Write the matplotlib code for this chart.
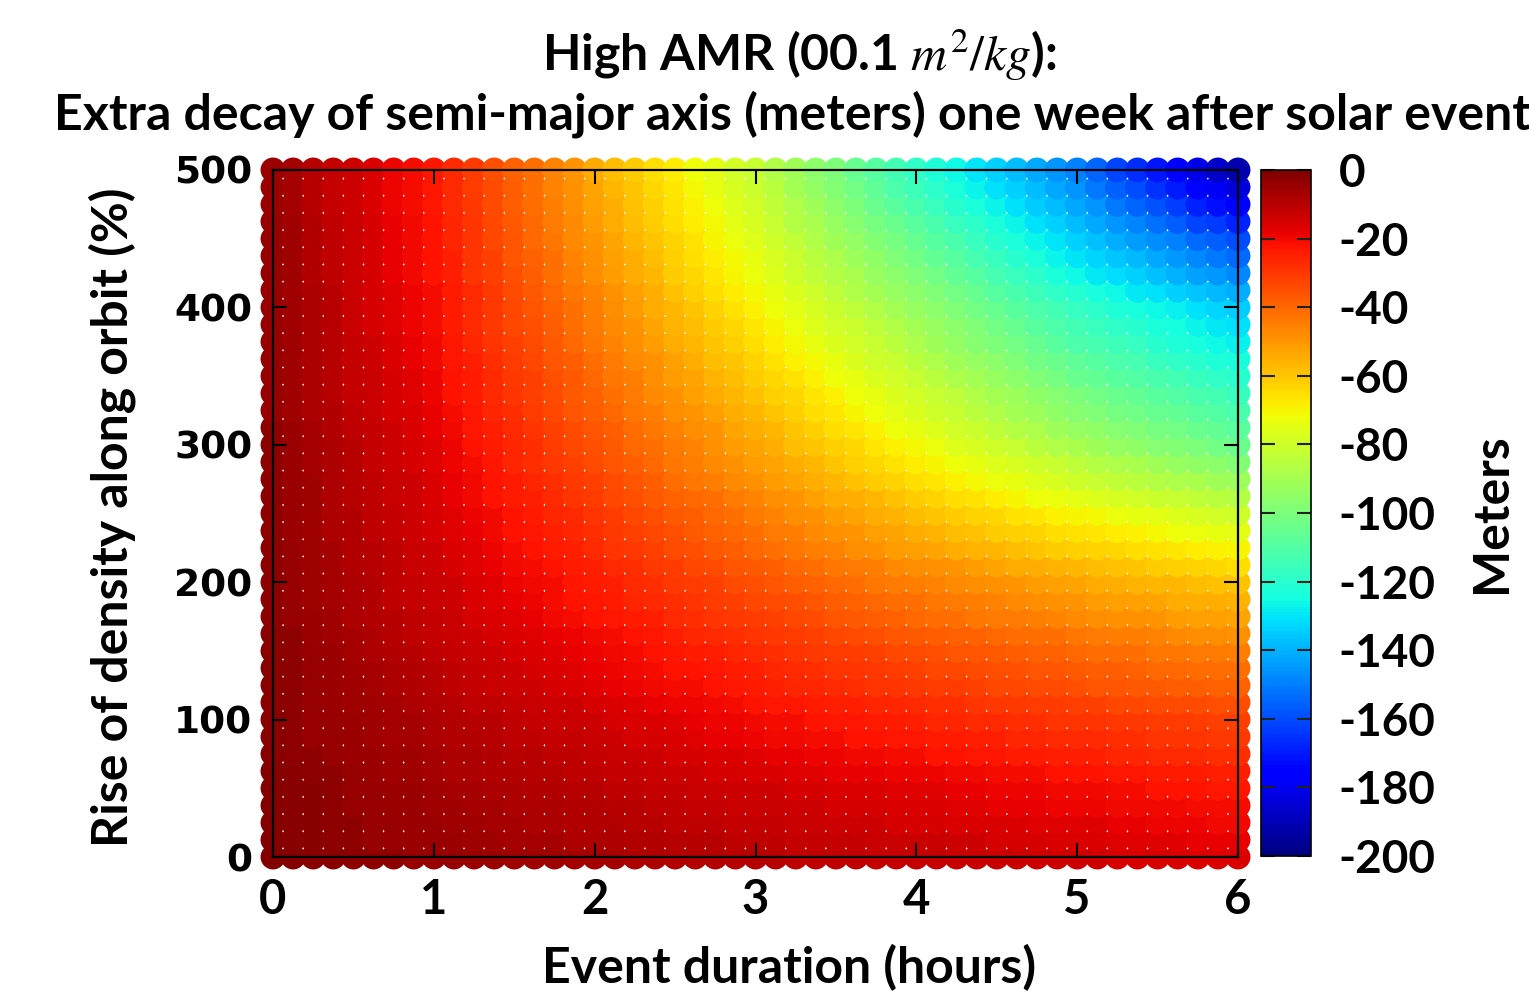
import numpy as np
import matplotlib.pyplot as plt

plt.rcParams['axes.unicode_minus'] = False
plt.rcParams['mathtext.fontset'] = 'stix'

# sampling grid of the runs: event duration (h) and density rise (%)
durations = np.linspace(0, 6, 49)
density_rise = np.linspace(0, 500, 41)

# extra decay of semi-major axis (m), one row per density step, 0 % first
decay_m = [
    [-1,-1,-2,-2,-3,-3,-3,-4, -4,-4,-5,-5,-6,-6,-6,-7, -7,-7,-8,-8,-9,-9,-9,-10, -10,-10,-11,-11,-11,-11,-12,-12, -12,-12,-13,-13,-13,-13,-14,-14, -14,-14,-15,-15,-15,-15,-16,-16, -16],
    [-1,-2,-2,-3,-3,-4,-4,-5, -5,-5,-6,-6,-7,-7,-7,-8, -8,-8,-9,-9,-10,-10,-10,-11, -11,-11,-12,-12,-12,-12,-13,-13, -13,-13,-14,-14,-15,-15,-15,-16, -16,-16,-17,-17,-17,-17,-18,-18, -18],
    [-1,-2,-2,-3,-3,-4,-4,-5, -5,-6,-6,-7,-7,-8,-8,-9, -9,-9,-10,-10,-11,-11,-11,-12, -12,-12,-13,-13,-14,-14,-14,-15, -15,-15,-16,-16,-16,-16,-17,-17, -17,-17,-18,-18,-19,-19,-19,-20, -20],
    [-1,-2,-2,-3,-4,-4,-5,-5, -6,-6,-7,-7,-8,-8,-8,-9, -9,-10,-10,-11,-11,-12,-12,-13, -13,-13,-14,-14,-15,-15,-15,-16, -16,-16,-17,-17,-18,-18,-18,-19, -19,-19,-20,-20,-20,-20,-21,-21, -21],
    [-1,-2,-2,-3,-4,-4,-5,-5, -6,-7,-7,-8,-8,-9,-9,-10, -10,-11,-11,-12,-12,-13,-13,-14, -14,-14,-15,-15,-16,-16,-16,-17, -17,-17,-18,-18,-19,-19,-19,-20, -20,-20,-21,-21,-22,-22,-22,-23, -23],
    [-1,-2,-3,-3,-4,-5,-6,-6, -7,-8,-8,-9,-9,-10,-10,-11, -11,-12,-12,-13,-14,-14,-15,-15, -16,-16,-17,-17,-18,-18,-18,-19, -19,-19,-20,-20,-21,-21,-21,-22, -22,-22,-23,-23,-24,-24,-24,-25, -25],
    [-2,-3,-3,-4,-5,-5,-6,-6, -7,-8,-8,-9,-10,-10,-11,-11, -12,-13,-13,-14,-15,-15,-16,-16, -17,-18,-18,-19,-19,-20,-20,-21, -21,-22,-22,-23,-23,-24,-24,-25, -25,-25,-26,-26,-27,-27,-27,-28, -28],
    [-2,-3,-4,-4,-5,-6,-7,-7, -8,-9,-9,-10,-11,-11,-12,-12, -13,-14,-15,-15,-16,-17,-18,-18, -19,-20,-20,-21,-21,-22,-22,-23, -23,-24,-24,-25,-25,-26,-26,-27, -27,-27,-28,-28,-29,-29,-29,-30, -30],
    [-2,-3,-4,-4,-5,-6,-7,-7, -8,-9,-10,-10,-11,-12,-13,-13, -14,-15,-16,-16,-17,-18,-19,-19, -20,-21,-21,-22,-23,-23,-24,-24, -25,-26,-26,-27,-27,-28,-28,-29, -29,-29,-30,-30,-31,-31,-31,-32, -32],
    [-2,-3,-4,-5,-6,-6,-7,-8, -9,-10,-11,-11,-12,-13,-14,-14, -15,-16,-17,-18,-19,-19,-20,-21, -22,-23,-23,-24,-25,-25,-26,-26, -27,-28,-28,-29,-30,-30,-31,-31, -32,-32,-33,-33,-34,-34,-34,-35, -35],
    [-2,-3,-4,-5,-6,-7,-8,-9, -10,-11,-12,-13,-14,-14,-15,-16, -17,-18,-19,-20,-21,-21,-22,-23, -24,-25,-26,-26,-27,-28,-29,-29, -30,-31,-31,-32,-33,-33,-34,-34, -35,-36,-36,-37,-37,-38,-38,-39, -39],
    [-2,-3,-4,-5,-6,-7,-8,-9, -10,-11,-12,-13,-14,-15,-16,-17, -18,-19,-20,-21,-22,-22,-23,-24, -25,-26,-27,-28,-29,-29,-30,-31, -32,-33,-33,-34,-35,-35,-36,-36, -37,-38,-38,-39,-40,-40,-41,-41, -42],
    [-2,-3,-4,-5,-7,-8,-9,-10, -11,-12,-13,-14,-15,-16,-17,-18, -19,-20,-21,-22,-23,-24,-25,-26, -27,-28,-29,-30,-31,-31,-32,-33, -34,-35,-36,-36,-37,-38,-39,-39, -40,-41,-41,-42,-43,-43,-44,-44, -45],
    [-2,-3,-5,-6,-7,-8,-10,-11, -12,-13,-14,-15,-16,-17,-18,-19, -20,-21,-22,-23,-25,-26,-27,-28, -29,-30,-31,-32,-33,-34,-35,-36, -37,-38,-39,-39,-40,-41,-42,-42, -43,-44,-45,-45,-46,-47,-48,-48, -49],
    [-3,-4,-5,-6,-8,-9,-10,-11, -12,-13,-15,-16,-17,-18,-20,-21, -22,-23,-24,-25,-27,-28,-29,-30, -31,-32,-33,-34,-36,-37,-38,-39, -40,-41,-42,-43,-44,-44,-45,-46, -47,-48,-49,-49,-50,-51,-52,-52, -53],
    [-3,-4,-6,-7,-8,-9,-11,-12, -13,-14,-16,-17,-18,-19,-21,-22, -23,-24,-26,-27,-28,-29,-31,-32, -33,-34,-35,-36,-38,-39,-40,-41, -42,-43,-44,-45,-46,-47,-48,-49, -50,-51,-52,-52,-53,-54,-55,-55, -56],
    [-3,-4,-6,-7,-8,-9,-11,-12, -13,-14,-16,-17,-19,-20,-21,-23, -24,-25,-27,-28,-30,-31,-32,-34, -35,-36,-38,-39,-40,-41,-43,-44, -45,-46,-47,-48,-49,-50,-51,-52, -53,-54,-55,-56,-57,-57,-58,-59, -60],
    [-3,-4,-6,-7,-9,-10,-11,-13, -14,-15,-17,-18,-20,-21,-22,-24, -25,-27,-28,-30,-31,-33,-34,-36, -37,-38,-40,-41,-43,-44,-45,-47, -48,-49,-50,-51,-53,-54,-55,-56, -57,-58,-59,-60,-61,-62,-63,-64, -65],
    [-3,-4,-6,-7,-9,-10,-11,-13, -14,-16,-17,-19,-21,-22,-24,-25, -27,-29,-30,-32,-34,-35,-37,-38, -40,-42,-43,-45,-46,-48,-49,-51, -52,-53,-55,-56,-57,-58,-60,-61, -62,-63,-64,-65,-66,-67,-68,-69, -70],
    [-3,-5,-6,-8,-9,-11,-12,-14, -15,-17,-18,-20,-22,-23,-25,-26, -28,-30,-32,-33,-35,-37,-39,-40, -42,-44,-45,-47,-49,-50,-52,-53, -55,-56,-58,-59,-61,-62,-63,-65, -66,-67,-68,-69,-71,-72,-73,-74, -75],
    [-3,-5,-6,-8,-9,-11,-12,-14, -15,-17,-19,-20,-22,-24,-26,-27, -29,-31,-33,-35,-37,-38,-40,-42, -44,-46,-48,-49,-51,-53,-55,-56, -58,-60,-61,-63,-64,-66,-67,-69, -70,-71,-73,-74,-75,-76,-78,-79, -80],
    [-3,-5,-6,-8,-10,-11,-13,-14, -16,-18,-20,-22,-24,-25,-27,-29, -31,-33,-35,-37,-39,-40,-42,-44, -46,-48,-50,-52,-54,-55,-57,-59, -61,-63,-65,-66,-68,-70,-72,-73, -75,-76,-78,-79,-81,-82,-83,-85, -86],
    [-3,-5,-6,-8,-10,-11,-13,-14, -16,-18,-20,-22,-24,-26,-28,-30, -32,-34,-36,-38,-41,-43,-45,-47, -49,-51,-53,-55,-57,-59,-61,-63, -65,-67,-69,-71,-73,-74,-76,-78, -80,-82,-83,-85,-86,-88,-89,-91, -92],
    [-3,-5,-7,-8,-10,-12,-14,-15, -17,-19,-21,-23,-26,-28,-30,-32, -34,-36,-38,-40,-43,-45,-47,-49, -51,-53,-55,-57,-60,-62,-64,-66, -68,-70,-72,-74,-76,-78,-80,-82, -84,-86,-88,-89,-91,-93,-95,-96, -98],
    [-3,-5,-7,-8,-10,-12,-14,-15, -17,-19,-22,-24,-26,-28,-31,-33, -35,-37,-40,-42,-44,-46,-49,-51, -53,-55,-58,-60,-62,-64,-67,-69, -71,-73,-76,-78,-80,-82,-85,-87, -89,-91,-93,-95,-97,-98,-100,-102, -104],
    [-3,-5,-7,-9,-11,-12,-14,-16, -18,-20,-23,-25,-27,-29,-32,-34, -36,-38,-41,-43,-46,-48,-50,-53, -55,-57,-60,-62,-65,-67,-69,-72, -74,-76,-79,-81,-84,-86,-88,-91, -93,-95,-97,-99,-101,-102,-104,-106, -108],
    [-4,-6,-8,-9,-11,-13,-15,-16, -18,-21,-23,-26,-28,-31,-33,-36, -38,-40,-43,-45,-48,-50,-52,-55, -57,-60,-62,-65,-67,-70,-72,-75, -77,-80,-82,-85,-87,-90,-92,-95, -97,-99,-101,-103,-105,-106,-108,-110, -112],
    [-4,-6,-8,-10,-12,-13,-15,-17, -19,-22,-24,-27,-29,-32,-34,-37, -39,-42,-44,-47,-49,-52,-54,-57, -59,-62,-64,-67,-69,-72,-74,-77, -79,-82,-84,-87,-90,-92,-95,-97, -100,-102,-104,-106,-108,-110,-112,-114, -116],
    [-4,-6,-8,-10,-12,-13,-15,-17, -19,-22,-24,-27,-30,-32,-35,-37, -40,-43,-45,-48,-51,-53,-56,-58, -61,-64,-66,-69,-72,-74,-77,-79, -82,-85,-88,-90,-93,-96,-99,-101, -104,-106,-108,-110,-112,-114,-116,-118, -120],
    [-4,-6,-8,-10,-12,-14,-16,-18, -20,-23,-25,-28,-31,-33,-36,-38, -41,-44,-47,-49,-52,-55,-58,-60, -63,-66,-69,-71,-74,-77,-80,-82, -85,-88,-91,-93,-96,-99,-102,-104, -107,-109,-111,-113,-116,-118,-120,-122, -124],
    [-4,-6,-8,-10,-12,-14,-16,-18, -20,-23,-26,-29,-32,-34,-37,-40, -43,-46,-49,-51,-54,-57,-60,-62, -65,-68,-71,-74,-77,-79,-82,-85, -88,-91,-94,-97,-100,-102,-105,-108, -111,-113,-115,-117,-120,-122,-124,-126, -128],
    [-4,-6,-8,-10,-13,-15,-17,-19, -21,-24,-27,-30,-33,-35,-38,-41, -44,-47,-50,-53,-56,-58,-61,-64, -67,-70,-73,-76,-79,-81,-84,-87, -90,-93,-96,-99,-102,-105,-108,-111, -114,-116,-118,-120,-123,-125,-127,-129, -131],
    [-4,-6,-8,-10,-13,-15,-17,-19, -21,-24,-27,-30,-33,-36,-39,-42, -45,-48,-51,-54,-57,-60,-63,-66, -69,-72,-75,-78,-81,-84,-87,-90, -93,-96,-99,-102,-105,-108,-111,-114, -117,-119,-122,-124,-126,-128,-131,-133, -135],
    [-4,-6,-8,-10,-13,-15,-17,-19, -21,-24,-27,-30,-34,-37,-40,-43, -46,-49,-52,-55,-59,-62,-65,-68, -71,-74,-77,-80,-84,-87,-90,-93, -96,-99,-102,-105,-109,-112,-115,-118, -121,-124,-126,-129,-131,-134,-136,-139, -141],
    [-4,-6,-9,-11,-13,-15,-18,-20, -22,-25,-29,-32,-35,-38,-42,-45, -48,-51,-54,-57,-61,-64,-67,-70, -73,-76,-80,-83,-86,-89,-93,-96, -99,-102,-106,-109,-113,-116,-119,-123, -126,-129,-132,-134,-137,-140,-143,-145, -148],
    [-4,-6,-9,-11,-13,-15,-18,-20, -22,-25,-29,-32,-36,-39,-42,-46, -49,-52,-55,-58,-62,-65,-68,-71, -74,-78,-81,-85,-88,-92,-95,-99, -102,-106,-109,-113,-116,-120,-123,-127, -130,-133,-136,-139,-142,-145,-148,-151, -154],
    [-4,-6,-9,-11,-13,-15,-18,-20, -22,-26,-29,-33,-36,-40,-43,-47, -50,-53,-57,-60,-63,-66,-70,-73, -76,-80,-83,-87,-91,-94,-98,-101, -105,-109,-112,-116,-120,-123,-127,-130, -134,-137,-141,-144,-147,-150,-154,-157, -160],
    [-4,-6,-9,-11,-13,-15,-18,-20, -22,-26,-29,-33,-37,-40,-44,-47, -51,-54,-58,-61,-65,-68,-71,-75, -78,-82,-86,-89,-93,-97,-101,-104, -108,-112,-116,-119,-123,-127,-131,-134, -138,-142,-146,-149,-153,-157,-161,-164, -168],
    [-5,-7,-10,-12,-14,-16,-19,-21, -23,-27,-30,-34,-38,-41,-45,-48, -52,-55,-59,-62,-66,-69,-72,-76, -79,-83,-87,-91,-96,-100,-104,-108, -112,-116,-120,-123,-127,-131,-135,-138, -142,-146,-151,-155,-159,-163,-168,-172, -176],
    [-5,-7,-10,-12,-14,-16,-19,-21, -23,-27,-31,-34,-38,-42,-46,-49, -53,-57,-60,-64,-67,-71,-74,-78, -81,-85,-90,-94,-98,-102,-107,-111, -115,-119,-123,-127,-131,-134,-138,-142, -146,-151,-156,-160,-165,-170,-175,-179, -184],
    [-5,-7,-10,-12,-14,-16,-19,-21, -23,-27,-31,-35,-39,-42,-46,-50, -54,-58,-61,-65,-68,-72,-75,-79, -82,-87,-91,-96,-100,-105,-109,-114, -118,-122,-126,-130,-134,-138,-142,-146, -150,-155,-161,-166,-171,-176,-182,-187, -192],
]

x_ticks = [0, 1, 2, 3, 4, 5, 6]
y_ticks = [0, 100, 200, 300, 400, 500]
cbar_ticks = list(range(-200, 1, 20))

txt_font = ['Lato', 'DejaVu Sans']

W, H = 1529, 994
fig = plt.figure(figsize=(W / 100, H / 100), dpi=100)
ax = fig.add_axes([273 / W, (H - 857) / H, 965 / W, 687 / H])

xx, yy = np.meshgrid(durations, density_rise)
vals = np.array(decay_m, dtype=float)
sc = ax.scatter(xx.ravel(), yy.ravel(), c=vals.ravel(), cmap='jet',
                vmin=-200, vmax=0, s=322, linewidths=0, clip_on=False, zorder=1)

ax.set_xlim(0, 6)
ax.set_ylim(0, 500)
for sp in ax.spines.values():
    sp.set_linewidth(1.6)
    sp.set_zorder(3)

ax.set_xticks(x_ticks)
ax.set_xticklabels([str(v) for v in x_ticks], fontsize=34, fontweight='bold', family=txt_font)
ax.set_yticks(y_ticks)
ax.set_yticklabels([str(v) for v in y_ticks], fontsize=27, fontweight='bold',
                   family=['DejaVu Sans'])
ax.tick_params(direction='in', length=10, width=1.5, top=True, right=True, color='black')
ax.tick_params(axis='x', pad=15)
ax.tick_params(axis='y', pad=15)

fig.text(0.523, 0.944, 'High AMR (00.1 $m^2/kg$):', ha='center', va='center',
         fontsize=36, fontweight='bold', family=txt_font)
fig.text(0.518, 0.885, 'Extra decay of semi-major axis (meters) one week after solar event',
         ha='center', va='center', fontsize=36, fontweight='bold', family=txt_font)
fig.text(789 / W, 1 - 968 / H, 'Event duration (hours)', ha='center', va='center',
         fontsize=36, fontweight='bold', family=txt_font)
fig.text(112 / W, 1 - 517 / H, 'Rise of density along orbit (%)', ha='center', va='center',
         rotation=90, fontsize=36, fontweight='bold', family=txt_font)

# colour scale
cax = fig.add_axes([1261 / W, (H - 856) / H, 50 / W, 686 / H])
cb = fig.colorbar(sc, cax=cax, ticks=cbar_ticks)
cb.outline.set_linewidth(1.2)
cax.tick_params(direction='in', length=10, width=1.5, left=True, right=True,
                labelsize=33, pad=20, color='#222222')
cax.set_yticklabels([str(v) for v in cbar_ticks])
for t in cax.get_yticklabels():
    t.set_fontweight('bold')
    t.set_family(txt_font)
fig.text(1492 / W, 1 - 513 / H, 'Meters', ha='center', va='center', rotation=90,
         fontsize=36, fontweight='bold', family=txt_font)

fig.savefig('out.png', dpi=100)
